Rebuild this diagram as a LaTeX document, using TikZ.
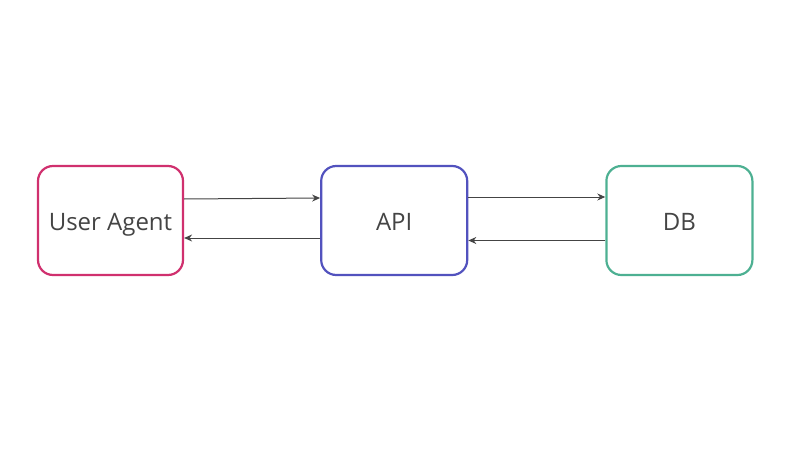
\documentclass[tikz,border=0pt]{standalone}
\usepackage{fontspec}
\setmainfont{Open Sans}
\usepackage{tikz}
\usetikzlibrary{positioning,arrows.meta}
\definecolor{uapink}{HTML}{D0306E}
\definecolor{apiblue}{HTML}{5252BE}
\definecolor{dbgreen}{HTML}{4DB092}
\definecolor{linegray}{HTML}{444444}

\begin{document}
\begin{tikzpicture}[x=1pt,y=1pt,
  box/.style={draw,line width=2.2pt,rounded corners=15pt,minimum width=145pt,minimum height=109pt,
    text=linegray,text height=20pt,text depth=0pt,font=\fontsize{24}{28}\selectfont},
  flow/.style={draw=linegray,line width=1pt,-{Stealth[length=8pt,width=7pt]}}]
\useasboundingbox (0,0) rectangle (808,456);
\node [box,draw=uapink] (ua) at (110.5,235.5) {User Agent};
\node [box,draw=apiblue,minimum width=146pt,right=136pt of ua] (api) {API};
\node [box,draw=dbgreen,minimum width=146pt,right=137pt of api] (db) {DB};
\draw [flow] ([yshift=21.5pt]ua.east) -- ([yshift=22.5pt]api.west);
\draw [flow] ([yshift=-17.5pt]api.west) -- ([yshift=-17.5pt]ua.east);
\draw [flow] ([yshift=23.5pt]api.east) -- ([yshift=23.5pt]db.west);
\draw [flow] ([yshift=-20pt]db.west) -- ([yshift=-20pt]api.east);
\end{tikzpicture}
\end{document}
